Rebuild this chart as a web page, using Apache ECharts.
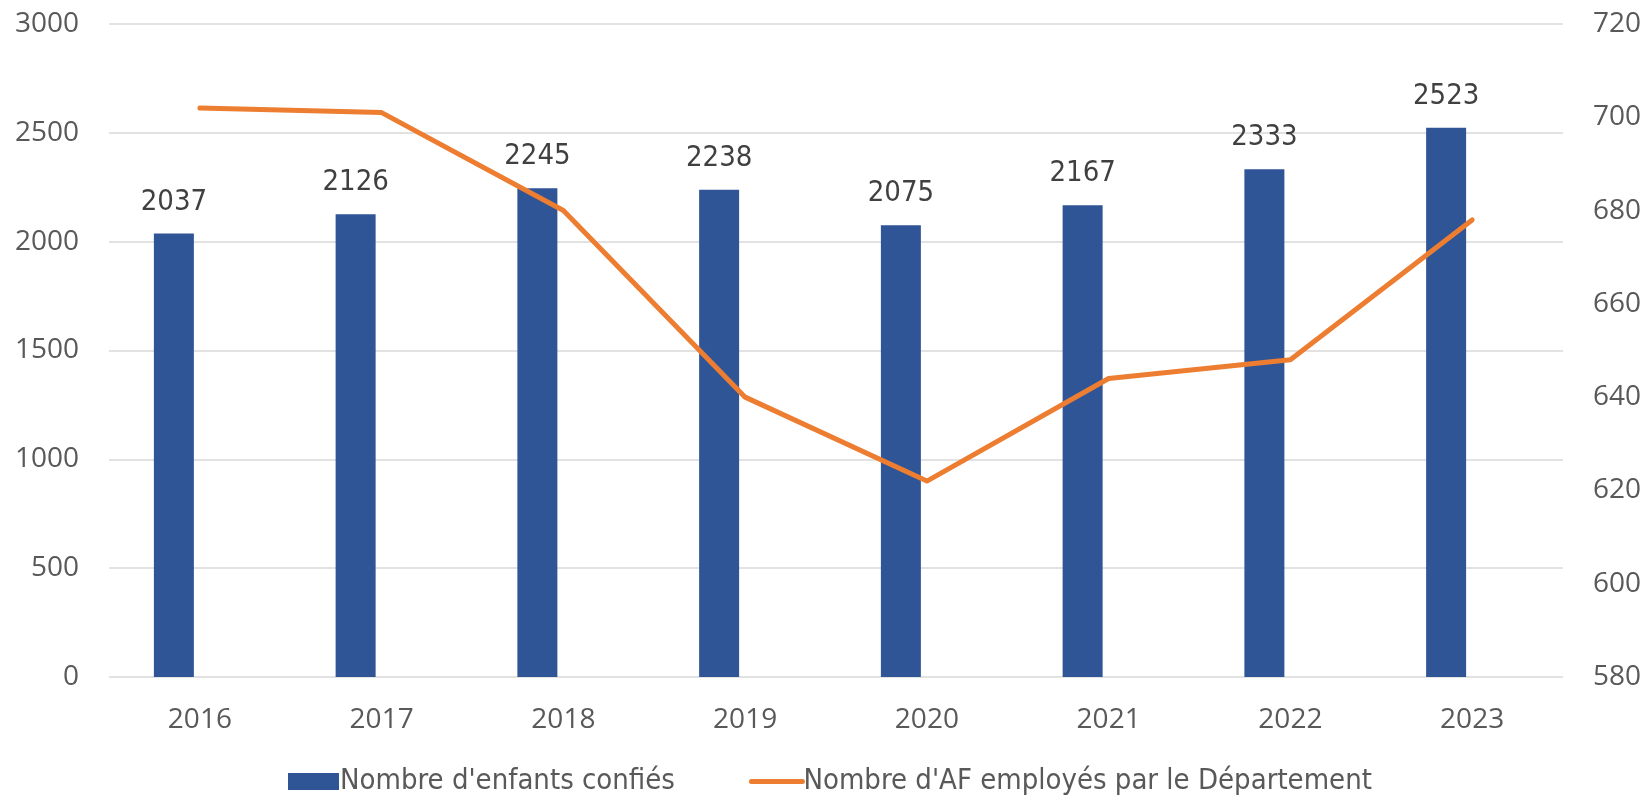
<!DOCTYPE html>
<html lang="fr">
<head>
    <meta charset="UTF-8">
    <title>Enfants confiés et AF</title>
    <script src="https://cdn.jsdelivr.net/npm/echarts@6/dist/echarts.min.js"></script>
    <style>
        html, body { margin: 0; padding: 0; background: #fff; }
    </style>
</head>
<body>
<div id="main" style="width:1647px;height:797px;"></div>
<script>
    var years = ['2016', '2017', '2018', '2019', '2020', '2021', '2022', '2023'];
    var enfants = [2037, 2126, 2245, 2238, 2075, 2167, 2333, 2523];
    var assistants = [702, 701, 680, 640, 622, 644, 648, 678];
    // empty second bar series, as in the original sheet (keeps the bars off-centre)
    var vide = [null, null, null, null, null, null, null, null];

    var nomBarres = "Nombre d'enfants confiés";
    var nomLigne = "Nombre d'AF employés par le Département";
    var police = "'Open Sans', 'DejaVu Sans', sans-serif";
    var policeEtroite = "'Liberation Sans Narrow', 'DejaVu Sans Condensed', sans-serif";

    var chart = echarts.init(document.getElementById('main'));
    var option = {
        animation: false,
        backgroundColor: '#fff',
        grid: {
            left: 109,
            right: 84,
            top: 24,
            bottom: 120
        },
        legend: {
            data: [
                { name: nomBarres, icon: 'rect', itemStyle: { color: '#2F5597' } },
                {
                    name: nomLigne,
                    itemStyle: { opacity: 0 },
                    lineStyle: { color: '#ED7D31', width: 5, cap: 'round' }
                }
            ],
            left: 283,
            top: 762,
            itemWidth: 51,
            itemHeight: 17,
            itemGap: 74,
            textStyle: {
                fontFamily: policeEtroite,
                fontSize: 29,
                color: '#595959',
                padding: [0, 0, 0, -4]
            }
        },
        xAxis: {
            type: 'category',
            data: years,
            axisLine: { show: false },
            axisTick: { show: false },
            axisLabel: {
                margin: 29,
                fontFamily: police,
                fontSize: 28,
                color: '#595959'
            }
        },
        yAxis: [{
            type: 'value',
            min: 0,
            max: 3000,
            interval: 500,
            axisLine: { show: false },
            axisTick: { show: false },
            splitLine: { lineStyle: { color: '#D9D9D9', width: 1.5 } },
            axisLabel: {
                margin: 30,
                fontFamily: police,
                fontSize: 28,
                color: '#595959',
                formatter: function (v) { return String(v); }
            }
        }, {
            type: 'value',
            min: 580,
            max: 720,
            interval: 20,
            axisLine: { show: false },
            axisTick: { show: false },
            splitLine: { show: false },
            axisLabel: {
                margin: 30,
                fontFamily: police,
                fontSize: 28,
                color: '#595959'
            }
        }],
        series: [{
            name: nomBarres,
            type: 'bar',
            data: enfants,
            barWidth: 40,
            barGap: '30%',
            itemStyle: { color: '#2F5597' },
            label: {
                show: true,
                position: 'top',
                distance: 17,
                fontFamily: policeEtroite,
                fontSize: 29,
                color: '#404040'
            }
        }, {
            name: 'vide',
            type: 'bar',
            data: vide,
            barWidth: 40,
            silent: true
        }, {
            name: nomLigne,
            type: 'line',
            yAxisIndex: 1,
            data: assistants,
            showSymbol: false,
            symbol: 'none',
            lineStyle: { color: '#ED7D31', width: 5, cap: 'round', join: 'round' },
            itemStyle: { color: '#ED7D31' }
        }]
    };
    chart.setOption(option);
</script>
</body>
</html>
